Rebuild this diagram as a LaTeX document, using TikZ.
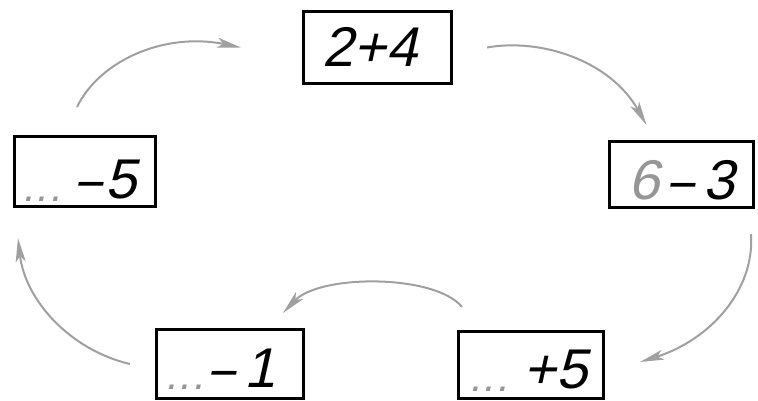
\documentclass[tikz,border=0pt]{standalone}
\usepackage{fontspec}
\usepackage{graphicx}
\setmainfont{Liberation Sans}
\newfontfamily\hand[FakeSlant=0.22]{Liberation Sans}
\usetikzlibrary{arrows.meta}
\definecolor{arrgray}{RGB}{160,160,160}
\definecolor{hintgray}{RGB}{150,150,150}
\newcommand{\mydash}{\scalebox{0.8}[1]{–}}
\tikzset{
  box/.style={draw=black, line width=3pt, inner sep=0pt},
  num/.style={anchor=base east, inner sep=0pt, font=\hand\fontsize{56}{56}\selectfont},
  dots/.style={anchor=base west, inner sep=0pt, text=hintgray, font=\hand\fontsize{42}{42}\selectfont},
  arr/.style={draw=arrgray, line width=2pt, -{Stealth[length=24pt,width=10pt,inset=6pt]}}
}
\begin{document}
\begin{tikzpicture}[x=1pt,y=-1pt]
\useasboundingbox[fill=white] (0,0) rectangle (758,401);
% boxes
\node[box, minimum width=148pt, minimum height=72pt] (T) at (377.5,47.5) {};
\node[box, minimum width=141pt, minimum height=70pt] (L) at (85,171.5) {};
\node[box, minimum width=144pt, minimum height=66pt] (R) at (681.5,174.5) {};
\node[box, minimum width=147pt, minimum height=69pt] (BL) at (230,364) {};
\node[box, minimum width=145pt, minimum height=67pt] (BR) at (531,365) {};
% texts
\node[num] (tT) at (418,67) {2+4};
\node[num] (tL) at (137,198) {\mydash\hspace{4pt}5};
\node[num] (tR) at (735,200) {\textcolor{hintgray}{6}\hspace{9pt}\mydash\hspace{10pt}3};
\node[num] (tBL) at (276,387) {\mydash\hspace{10pt}1};
\node[num] (tBR) at (588,388) {+5};
\node[dots] (dL) at (22,201) {.\hspace{2pt}.\hspace{2pt}.};
\node[dots] (dBL) at (165,389) {.\hspace{2pt}.\hspace{2pt}.};
\node[dots] (dBR) at (469,391) {.\hspace{2pt}.\hspace{2pt}.};
% arrows
\draw[arr] ([shift={(-8,-28)}]L.north) .. controls (100,60) and (165,32) .. ([shift={(-61,0)}]T.west);
\draw[arr] ([shift={(34,0)}]T.east) .. controls (540,38) and (610,60) .. ([shift={(-35,-15)}]R.north);
\draw[arr] ([shift={(-4,25)}]R.south east) .. controls (755,290) and (710,340) .. ([shift={(35,-3)}]BR.east);
\draw[arr] ([shift={(5,-23)}]BR.north west) .. controls (435,274) and (320,274) .. ([shift={(-22,-15)}]BL.north east);
\draw[arr] ([shift={(-25,0)}]BL.west) .. controls (70,350) and (25,300) .. ([shift={(5,30)}]L.south west);
\end{tikzpicture}
\end{document}
